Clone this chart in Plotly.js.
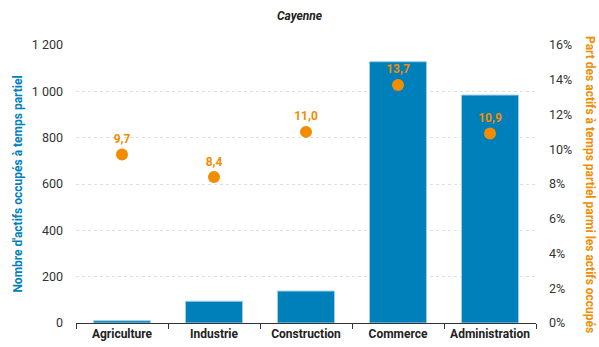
<!DOCTYPE html>
<html><head><meta charset="utf-8">
<script src="https://cdn.plot.ly/plotly-3.0.1.min.js"></script>
<style>html,body{margin:0;padding:0;background:#fff;}#c{width:599px;height:347px;}</style>
</head><body><div id="c"></div>
<script>
const categories = ["Agriculture", "Industrie", "Construction", "Commerce", "Administration"];
const actifsPartiel = [10, 94, 138, 1128, 984];
const partPartiel = [9.7, 8.4, 11.0, 13.7, 10.9];
const partLabels = ["9,7", "8,4", "11,0", "13,7", "10,9"];
const leftTicks = [0, 200, 400, 600, 800, 1000, 1200];
const leftTickLabels = ["0", "200", "400", "600", "800", "1 000", "1 200"];
const rightTicks = [0, 2, 4, 6, 8, 10, 12, 14, 16];
const rightTickLabels = ["0%", "2%", "4%", "6%", "8%", "10%", "12%", "14%", "16%"];

const blue = "#0080bb", orange = "#f28c00";
const traces = [
  {type: "bar", x: categories, y: actifsPartiel, width: 0.62,
   marker: {color: blue, line: {color: "#9fd0ea", width: 1}}, hoverinfo: "none"},
  {type: "scatter", mode: "markers+text", x: categories, y: partPartiel, yaxis: "y2",
   text: partLabels, textposition: "top center",
   textfont: {family: "Roboto", size: 12, color: orange, weight: "bold"},
   marker: {color: orange, size: 12}, hoverinfo: "none"}
];
const layout = {
  width: 599, height: 347, showlegend: false,
  margin: {l: 76, r: 63, t: 45, b: 24},
  paper_bgcolor: "#fff", plot_bgcolor: "#fff",
  font: {family: "Roboto", size: 12, color: "#333"},
  title: {text: "<b><i>Cayenne</i></b>", x: 0.5, xanchor: "center", y: 0.955, yanchor: "middle",
          font: {family: "Roboto", size: 12, color: "#222"}},
  xaxis: {type: "category", tickson: "boundaries", ticks: "outside", ticklen: 5, tickcolor: "#333",
          showline: true, linecolor: "#333", linewidth: 1, showgrid: false,
          tickfont: {family: "Roboto", size: 12, color: "#222", weight: "bold"}, automargin: false},
  yaxis: {range: [0, 1200], tickmode: "array", tickvals: leftTicks, ticktext: leftTickLabels,
          showline: false, zeroline: false,
          gridcolor: "#e0e0e0", griddash: "dot", gridwidth: 1, ticks: "", ticklabelstandoff: 12,
          tickfont: {family: "Roboto", size: 12.5, color: "#333"}, automargin: false,
          title: {text: "<b>Nombre d'actifs occupés à temps partiel</b>", standoff: 6,
                  font: {family: "Roboto", size: 12, color: blue}}},
  yaxis2: {range: [0, 16], tickmode: "array", tickvals: rightTicks, ticktext: rightTickLabels,
           overlaying: "y", side: "right",
           showgrid: false, zeroline: false, showline: false, ticks: "", ticklabelstandoff: 12,
           tickfont: {family: "Roboto", size: 12.5, color: "#333"}, automargin: false},
  annotations: [{text: "<b>Part des actifs à temps partiel parmi les actifs occupés</b>",
                 xref: "paper", yref: "paper", x: 1, xshift: 54, y: 0.5, textangle: 90,
                 showarrow: false, xanchor: "center", yanchor: "middle",
                 font: {family: "Roboto", size: 12, color: orange}}]
};
Plotly.newPlot("c", traces, layout, {displayModeBar: false, staticPlot: true});
</script></body></html>
